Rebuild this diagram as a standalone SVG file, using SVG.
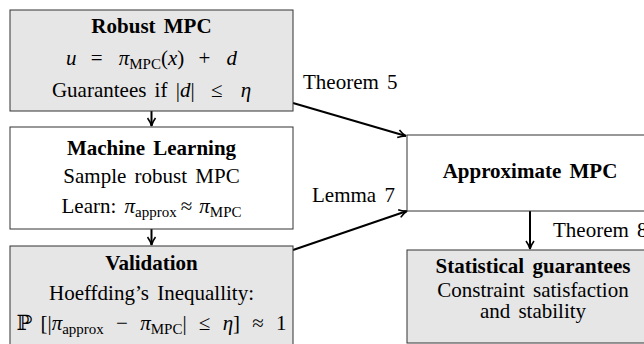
<svg xmlns="http://www.w3.org/2000/svg" width="644" height="344" viewBox="0 0 644 344">
<style>
.box{stroke:#333;stroke-width:1}
.g{fill:#e6e6e6}
.w{fill:#fff}
text{font-family:"Liberation Serif","DejaVu Serif",serif;font-size:21px;fill:#000;word-spacing:3px}
.t{font-weight:bold;text-anchor:middle}
.c{text-anchor:middle}
.i{font-style:italic}
.s{font-size:15px}
.con{stroke:#000;fill:none;stroke-width:2}
</style>
<defs>
<marker id="ah" viewBox="0 0 10 10" refX="9" refY="5" markerWidth="10" markerHeight="10" markerUnits="userSpaceOnUse" orient="auto">
<path d="M1,1 Q5,4 9,5 Q5,6 1,9" fill="none" stroke="#000" stroke-width="1.6"/>
</marker>
</defs>
<rect width="644" height="344" fill="#fff"/>
<g id="connectors">
<line class="con" x1="151.5" y1="111" x2="151.5" y2="126" marker-end="url(#ah)"/>
<line class="con" x1="151.5" y1="229" x2="151.5" y2="245" marker-end="url(#ah)"/>
<line class="con" x1="293" y1="103" x2="406" y2="136" marker-end="url(#ah)"/>
<line class="con" x1="293" y1="250" x2="407" y2="211" marker-end="url(#ah)"/>
<line class="con" x1="530" y1="211" x2="530" y2="249" marker-end="url(#ah)"/>
<text x="303" y="89">Theorem 5</text>
<text x="312" y="202">Lemma 7</text>
<text x="553" y="237">Theorem 8</text>
</g>
<g id="robust">
<rect class="box g" x="10" y="10" width="283" height="101"/>
<text class="t" x="151.5" y="33">Robust MPC</text>
<text class="c" x="151.5" y="65"><tspan class="i">u</tspan> <tspan dx="6">=</tspan> <tspan class="i" dx="8">π</tspan><tspan class="s" dy="4">MPC</tspan><tspan dy="-4">(</tspan><tspan class="i">x</tspan>) <tspan dx="6">+</tspan> <tspan class="i" dx="8">d</tspan></text>
<text class="c" x="151.5" y="97">Guarantees if |<tspan class="i">d</tspan>| <tspan dx="8">≤</tspan> <tspan class="i" dx="10">η</tspan></text>
</g>
<g id="ml">
<rect class="box w" x="10" y="127" width="283" height="102"/>
<text class="t" x="151.5" y="155">Machine Learning</text>
<text class="c" x="151.5" y="183">Sample robust MPC</text>
<text class="c" x="151.5" y="213">Learn: <tspan class="i">π</tspan><tspan class="s" dy="4">approx</tspan><tspan dy="-4" dx="4">≈</tspan><tspan class="i" dx="7">π</tspan><tspan class="s" dy="4">MPC</tspan></text>
</g>
<g id="validation">
<rect class="box g" x="10" y="246" width="283" height="110"/>
<text class="t" x="151.5" y="270">Validation</text>
<text class="c" x="151.5" y="300">Hoeffding’s Inequallity:</text>
<text class="c" x="151.5" y="330">ℙ [|<tspan class="i">π</tspan><tspan class="s" dy="4">approx</tspan><tspan dy="-4" dx="4"> −</tspan> <tspan class="i" dx="4">π</tspan><tspan class="s" dy="4">MPC</tspan><tspan dy="-4">|</tspan> <tspan dx="4">≤</tspan> <tspan class="i" dx="4">η</tspan>] <tspan dx="4">≈</tspan> <tspan dx="4">1</tspan></text>
</g>
<g id="approx">
<rect class="box w" x="407" y="135" width="246" height="76"/>
<text class="t" x="530" y="178">Approximate MPC</text>
</g>
<g id="stat">
<rect class="box g" x="407" y="250" width="246" height="93"/>
<text class="t" x="533" y="273">Statistical guarantees</text>
<text class="c" x="533" y="297">Constraint satisfaction</text>
<text class="c" x="533" y="318">and stability</text>
</g>
</svg>
